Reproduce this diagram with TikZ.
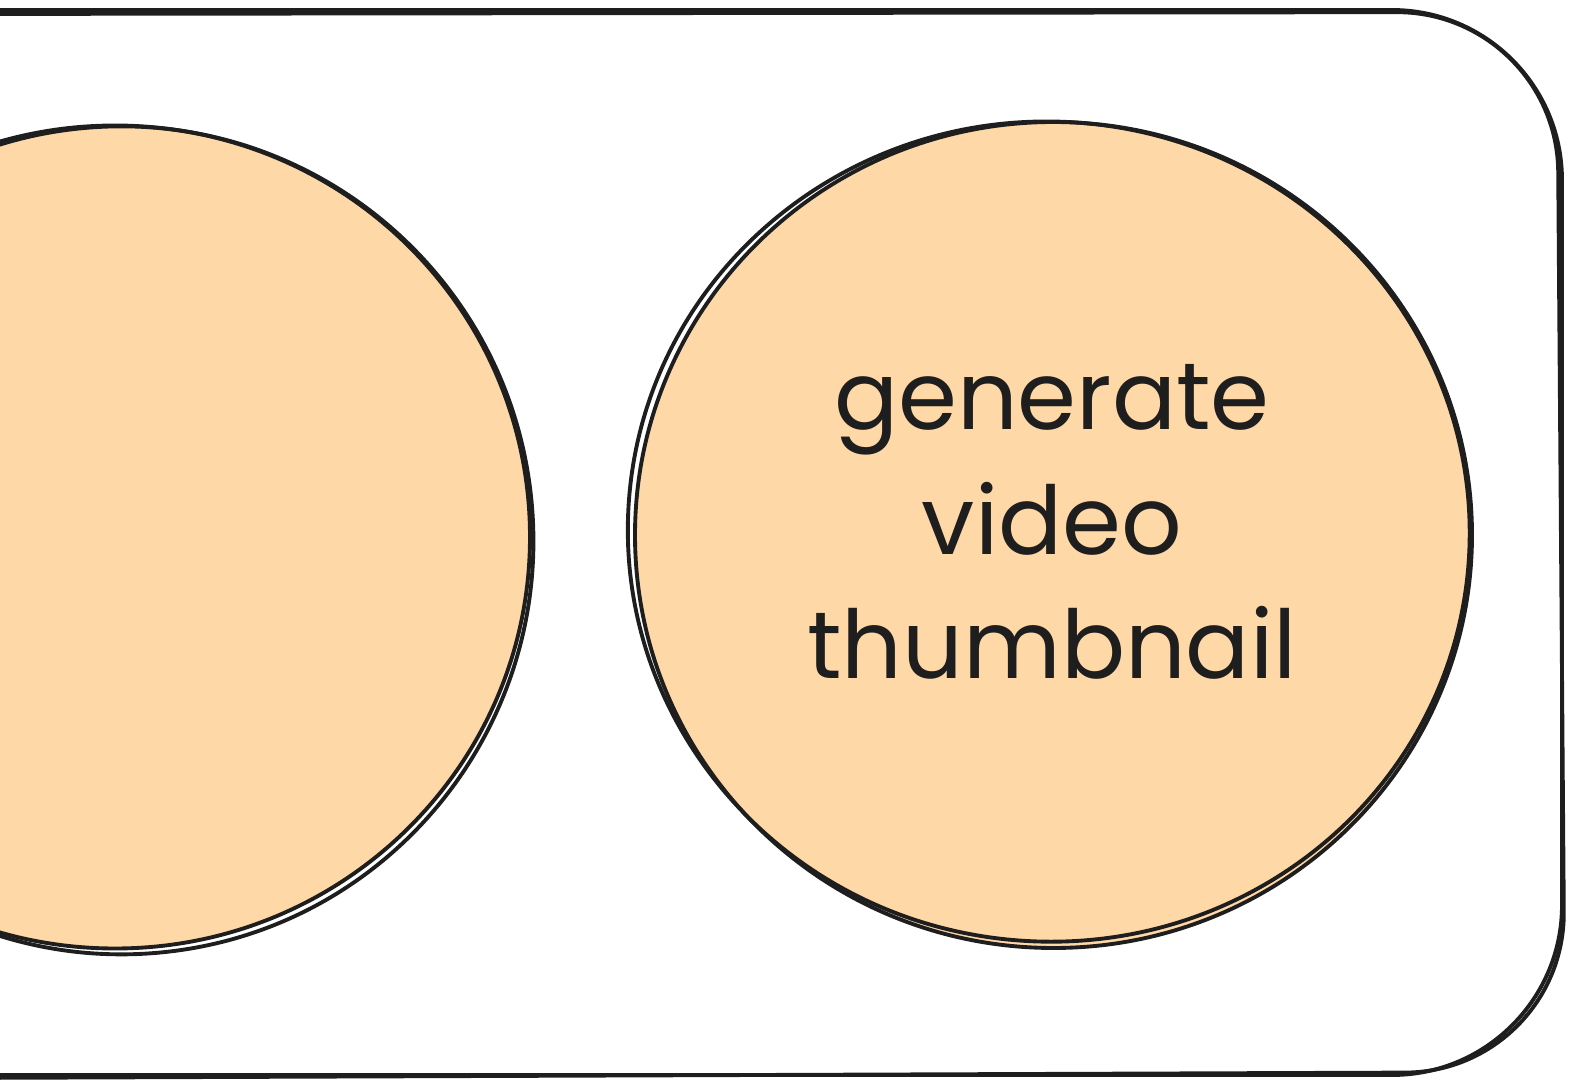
\documentclass[tikz,border=0pt]{standalone}
\usepackage{fontspec}
\setmainfont{Poppins}
\usetikzlibrary{shapes.geometric}
\definecolor{ink}{HTML}{1E1E1E}
\definecolor{peach}{HTML}{FFD8A8}
\begin{document}
\begin{tikzpicture}[
    sketch/.style={draw=ink, line width=1.1pt, line join=round, line cap=round},
    blob/.style={ellipse, fill=peach, sketch, inner sep=0pt},
    caption/.style={font=\fontsize{27}{35.5}\selectfont, align=center, text=ink}]
  % Page frame
  \useasboundingbox (0,0) rectangle (15.70,10.82);
  \clip (0,0) rectangle (15.70,10.82);

  % Outer rounded box, stroked twice for the sketchy look
  \draw[sketch, rounded corners=1.7cm] (-0.5,10.72) -- (15.62,10.72) -- (15.62,0.07) -- (-0.5,0.07);
  \draw[sketch, rounded corners=1.6cm] (-0.5,10.68) -- (15.57,10.70) -- (15.65,0.10) -- (-0.5,0.04);

  % Circles
  \node[blob, minimum width=8.3cm, minimum height=8.23cm] (prev) at (1.15,5.45) {};
  \node[blob, minimum width=8.37cm, minimum height=8.26cm] (thumb) at (10.535,5.47) {};

  % Second strokes
  \draw[sketch, rotate around={6:(prev.center)}] ([shift={(0.06,-0.04)}]prev.center) ellipse [x radius=4.12, y radius=4.14];
  \draw[sketch, rotate around={-5:(thumb.center)}] ([shift={(-0.05,0.03)}]thumb.center) ellipse [x radius=4.21, y radius=4.10];

  % Label
  \node[caption] (label) at (10.52,5.60) {generate\\video\\thumbnail};
\end{tikzpicture}
\end{document}
